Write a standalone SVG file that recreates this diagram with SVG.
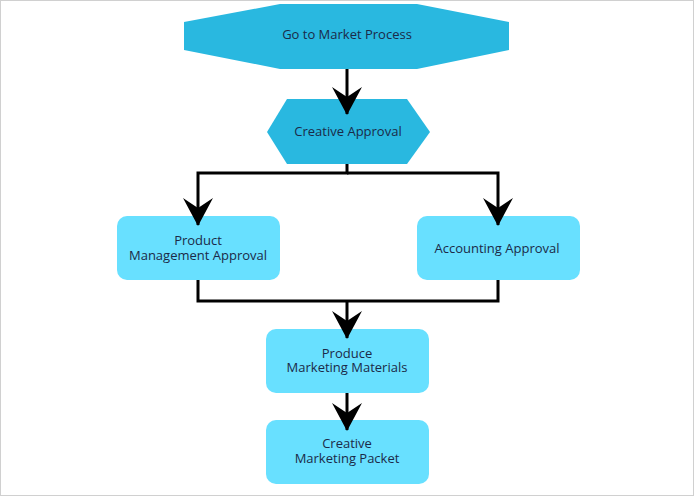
<svg xmlns="http://www.w3.org/2000/svg" width="694" height="496" viewBox="0 0 694 496">
<style>
.t{font-family:"Open Sans","Noto Sans","Liberation Sans",sans-serif;font-size:13px;fill:#1b2a48;text-anchor:middle}
.dark{fill:#29b8e0}
.light{fill:#68e0ff}
.c{fill:none;stroke:#000;stroke-width:3}
</style>
<defs>
<marker id="ah" viewBox="0 0 28 30" refX="27" refY="15" markerWidth="28" markerHeight="30" markerUnits="userSpaceOnUse" orient="auto">
<path d="M0,0 L28,15 L0,30 L10,15 Z" fill="#000"/>
</marker>
</defs>
<rect x="0.5" y="0.5" width="693" height="495" fill="#fff" stroke="#d0d0d0"/>
<g id="n1">
<polygon class="dark" points="280,4 417,4 509,22 509,50 417,69 280,69 184,50 184,22"/>
<text class="t" x="347" y="39">Go to Market Process</text>
</g>
<g id="n2">
<polygon class="dark" points="287,99 407,99 430,132 407,164 287,164 267,132"/>
<text class="t" x="348" y="136">Creative Approval</text>
</g>
<g id="n3">
<rect class="light" x="117" y="216" width="163" height="64" rx="10"/>
<text class="t" x="198" y="245"><tspan x="198">Product</tspan><tspan x="198" dy="14.5">Management Approval</tspan></text>
</g>
<g id="n4">
<rect class="light" x="417" y="216" width="163" height="64" rx="10"/>
<text class="t" x="497" y="253">Accounting Approval</text>
</g>
<g id="n5">
<rect class="light" x="266" y="329" width="163" height="64" rx="10"/>
<text class="t" x="347" y="357.5"><tspan x="347">Produce</tspan><tspan x="347" dy="14.5">Marketing Materials</tspan></text>
</g>
<g id="n6">
<rect class="light" x="266" y="420" width="163" height="64" rx="10"/>
<text class="t" x="347" y="448"><tspan x="347">Creative</tspan><tspan x="347" dy="15">Marketing Packet</tspan></text>
</g>
<g id="connectors">
<path class="c" d="M347,69 L347,114" marker-end="url(#ah)"/>
<path class="c" d="M347,164 L347,173 L198,173 L198,225" marker-end="url(#ah)"/>
<path class="c" d="M347,173 L498,173 L498,225" marker-end="url(#ah)"/>
<path class="c" d="M198,280 L198,301 L498,301 L498,280"/>
<path class="c" d="M347,301 L347,338" marker-end="url(#ah)"/>
<path class="c" d="M347,393 L347,430" marker-end="url(#ah)"/>
</g>
</svg>
